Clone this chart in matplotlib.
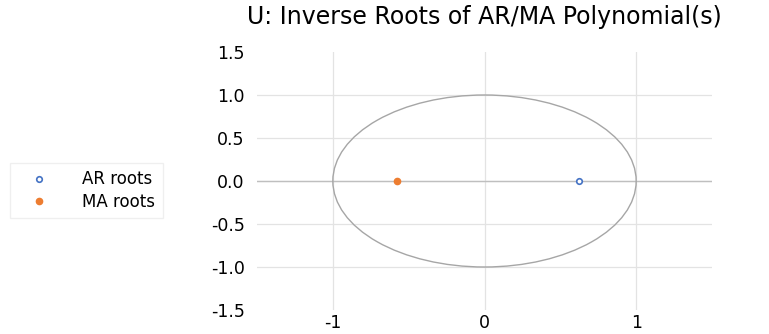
import matplotlib.pyplot as plt
from matplotlib.patches import Circle

# inverse roots
ar_re = [0.62]
ar_im = [0.0]
ma_re = [-0.58]
ma_im = [0.0]

xticks = [-1, 0, 1]
yticks = [-1.5, -1.0, -0.5, 0.0, 0.5, 1.0, 1.5]
title = "U: Inverse Roots of AR/MA Polynomial(s)"

plt.rcParams['font.family'] = ['DejaVu Sans']

fig = plt.figure(figsize=(7.69, 3.34), dpi=100)
ax = fig.add_axes([257/769, 24/334, 455/769, 258/334])

ax.set_xlim(-1.5, 1.5)
ax.set_ylim(-1.5, 1.5)
ax.set_xticks(xticks)
ax.set_yticks(yticks)
ax.set_xticklabels([str(t) for t in xticks])
ax.set_yticklabels(["%.1f" % t for t in yticks])
ax.tick_params(length=0, labelsize=12.5, colors="#000000")
ax.tick_params(axis='y', pad=9)
ax.tick_params(axis='x', pad=3)

for s in ax.spines.values():
    s.set_visible(False)

ax.grid(True, color="#e3e3e3", linewidth=0.9)
ax.set_axisbelow(True)
ygl = ax.yaxis.get_gridlines()
ygl[0].set_visible(False)
ygl[-1].set_visible(False)
ax.axhline(0, color="#bfbfbf", linewidth=1.0, zorder=1)

ax.add_patch(Circle((0, 0), 1, fill=False, edgecolor="#a6a6a6", linewidth=1.0, zorder=2))

ax.plot(ar_re, ar_im, linestyle="", marker="o", markersize=4, markerfacecolor="white",
        markeredgecolor="#4472C4", markeredgewidth=1.2, label="AR roots", zorder=3)
ax.plot(ma_re, ma_im, linestyle="", marker="o", markersize=4.5, color="#ED7D31",
        label="MA roots", zorder=3)

ax.set_title(title, fontsize=17, pad=20)

fig.legend(loc="upper left", bbox_to_anchor=(10/769, 1 - 163/334), fontsize=12,
           frameon=True, fancybox=False, edgecolor="#ececec", borderpad=0.45,
           borderaxespad=0, handlelength=2.6, handletextpad=1.3, labelspacing=0.25)

fig.savefig("out.png", dpi=100)
